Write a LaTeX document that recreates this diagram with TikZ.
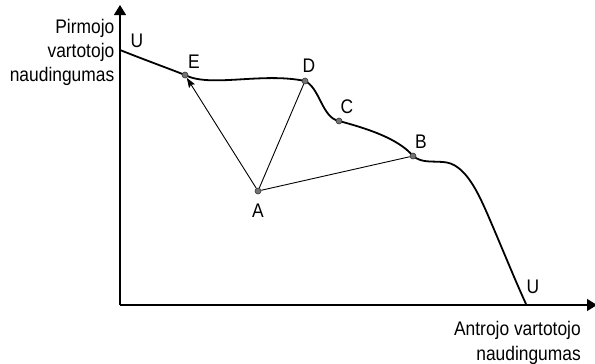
\documentclass[tikz,border=0pt]{standalone}
\usepackage{fontspec}
\setmainfont{Liberation Sans}
\usetikzlibrary{arrows.meta}
\newcommand{\tall}[1]{\scalebox{1}[1.13]{#1}}
\begin{document}
\begin{tikzpicture}[x=1pt,y=-1pt,
  lbl/.style={font=\fontsize{17.4}{25}\selectfont, inner sep=0pt},
  axis/.style={line width=1.3pt, -{Triangle[length=10pt,width=12pt]}},
  pt/.style={circle, fill=black!55, draw=black!80, line width=0.6pt, minimum size=6pt, inner sep=0pt},
  seg/.style={line width=0.9pt},
  curve/.style={line width=1.8pt}]
\useasboundingbox (0,0) rectangle (595,364);
% axes
\coordinate (O) at (120,305);
\coordinate (Ytip) at (120,5);
\coordinate (Xtip) at (597,305);
\draw[axis] (O) -- (Ytip);
\draw[axis] (O) -- (Xtip);
% axis labels
\node[lbl, anchor=base east] (y1) at (114.5,33.3) {\tall{Pirmojo}};
\node[lbl, anchor=base east] (y2) at (114.5,57) {\tall{vartotojo}};
\node[lbl, anchor=base east] (y3) at (114.5,81.7) {\tall{naudingumas}};
\node[lbl, anchor=base east] (x1) at (581,335) {\tall{Antrojo vartotojo}};
\node[lbl, anchor=base east] (x2) at (581,360) {\tall{naudingumas}};
% curve
\coordinate (U1) at (120,50);
\coordinate (E) at (185,75);
\coordinate (D) at (305,81);
\coordinate (C) at (339,121);
\coordinate (B) at (413,156);
\coordinate (K) at (443,162);
\coordinate (L) at (490,220);
\coordinate (U2) at (526,304);
\draw[curve] (U1) .. controls (145,60) and (170,69) .. (E)
  .. controls (210,88) and (262,72) .. (D)
  .. controls (320,88) and (322,118) .. (C)
  .. controls (365,128) and (398,138) .. (B)
  .. controls (422,163) and (430,161) .. (K)
  .. controls (465,163) and (478,192) .. (L)
  .. controls (505,255) and (515,280) .. (U2);
% points
\node[pt] (A) at (258,191) {};
\node[pt] (Ep) at (E) {};
\node[pt] (Dp) at (D) {};
\node[pt] (Cp) at (C) {};
\node[pt] (Bp) at (B) {};
% segments
\draw[seg, -{Stealth[length=10pt,width=7pt,inset=2pt]}] (A) -- (Ep);
\draw[seg] (A) -- (Dp);
\draw[seg] (A) -- (Bp);
% letters
\node[lbl] (lU1) at (137,41) {\tall{U}};
\node[lbl] (lE) at (194,62) {\tall{E}};
\node[lbl] (lD) at (309,66) {\tall{D}};
\node[lbl] (lC) at (347,107) {\tall{C}};
\node[lbl] (lB) at (421,142) {\tall{B}};
\node[lbl] (lA) at (258,211) {\tall{A}};
\node[lbl] (lU2) at (533,287) {\tall{U}};
\end{tikzpicture}
\end{document}
